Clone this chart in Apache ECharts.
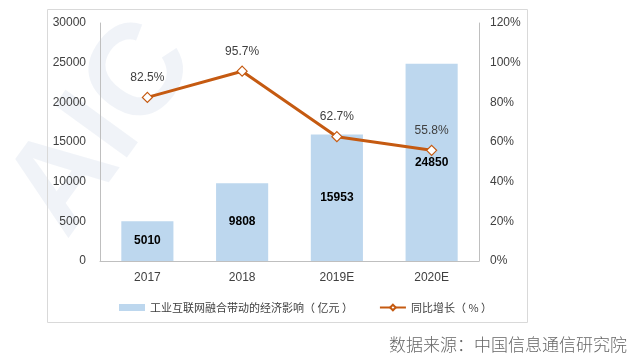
<!DOCTYPE html>
<html><head><meta charset="utf-8">
<script src="https://cdn.jsdelivr.net/npm/echarts@6/dist/echarts.min.js"></script>
<style>html,body{margin:0;padding:0;background:#fff}#c{width:640px;height:359px}</style>
</head><body><div id="c"></div>
<script>
var categories = ['2017', '2018', '2019E', '2020E'];
var impactValues = [5010, 9808, 15953, 24850];
var growthValues = [82.5, 95.7, 62.7, 55.8];
var leftTicks = [0, 5000, 10000, 15000, 20000, 25000, 30000];
var rightTicks = [0, 20, 40, 60, 80, 100, 120];
var barName = '工业互联网融合带动的经济影响（ 亿元 ）';
var lineName = '同比增长（ % ）';
var sourceText = '数据来源：中国信息通信研究院';

var chart = echarts.init(document.getElementById('c'));
var font = '"Liberation Sans", "Noto Sans CJK SC", sans-serif';
chart.setOption({
  animation: false,
  textStyle: {fontFamily: font},
  graphic: [
    {type: 'text', z: -10, left: -15, top: 0, rotation: Math.PI * 0.3,
     style: {text: 'AIC', fontSize: 130, fontWeight: 'bold', fill: 'rgba(205,215,232,0.3)', fontFamily: font}},
    {type: 'rect', z: -5, shape: {x: 47.5, y: 9.5, width: 480, height: 313},
     style: {fill: 'none', stroke: '#d9d9d9', lineWidth: 1}},
    {type: 'text', right: 13, top: 336,
     style: {text: sourceText, fontSize: 17, fontWeight: 300, fill: '#666', fontFamily: '"Noto Sans CJK SC", sans-serif'}}
  ],
  grid: {left: 100, right: 161, top: 23, bottom: 98},
  legend: {
    left: 114, top: 297, itemGap: 26,
    textStyle: {fontSize: 11, color: '#404040', fontFamily: '"Noto Sans CJK SC", sans-serif'},
    data: [
      {name: barName, icon: 'rect', itemStyle: {color: '#BDD7EE'}},
      {name: lineName}
    ],
    itemWidth: 26, itemHeight: 7
  },
  xAxis: {
    type: 'category', data: categories,
    axisLine: {lineStyle: {color: '#bfbfbf'}},
    axisTick: {show: false},
    axisLabel: {color: '#404040', fontSize: 12, margin: 11}
  },
  yAxis: [
    {type: 'value', min: leftTicks[0], max: leftTicks[leftTicks.length - 1], interval: 5000,
     axisLine: {show: true, lineStyle: {color: '#bfbfbf'}},
     axisTick: {show: false}, splitLine: {show: false},
     axisLabel: {color: '#404040', fontSize: 12, margin: 14, formatter: function (v) { return String(v); }}},
    {type: 'value', min: rightTicks[0], max: rightTicks[rightTicks.length - 1], interval: 20,
     axisLine: {show: true, lineStyle: {color: '#bfbfbf'}},
     axisTick: {show: false}, splitLine: {show: false},
     axisLabel: {color: '#404040', fontSize: 12, margin: 11, formatter: '{value}%'}}
  ],
  series: [
    {name: barName, type: 'bar', data: impactValues, barWidth: '55%',
     itemStyle: {color: '#BDD7EE'},
     label: {show: true, position: 'inside', fontWeight: 'bold', fontSize: 12, color: '#000'}},
    {name: lineName, type: 'line', yAxisIndex: 1, data: growthValues,
     symbol: 'diamond', symbolSize: 10,
     lineStyle: {color: '#C55A11', width: 3},
     itemStyle: {color: '#fff', borderColor: '#C55A11', borderWidth: 1.2},
     label: {show: true, position: 'top', distance: 8, fontSize: 12, color: '#404040',
             formatter: function (p) { return p.value.toFixed(1) + '%'; }}}
  ]
});
</script></body></html>
